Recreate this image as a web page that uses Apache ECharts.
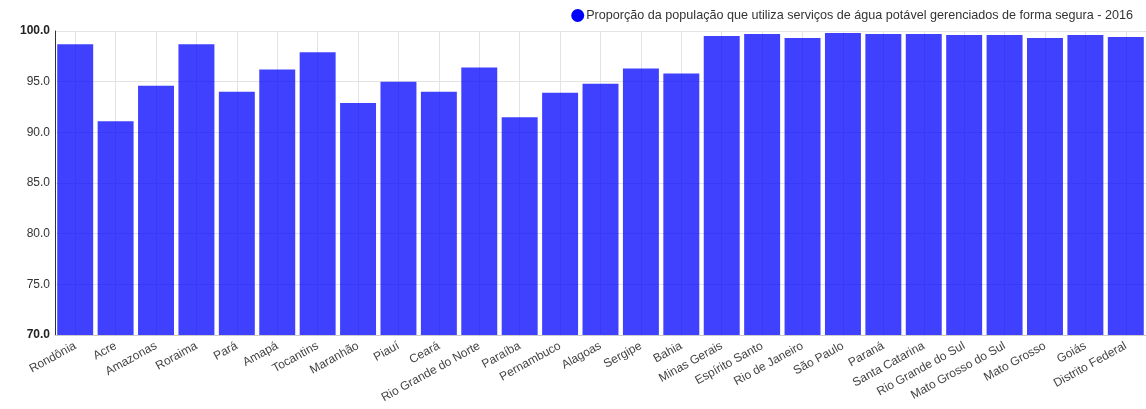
<!DOCTYPE html>
<html>
<head>
<meta charset="utf-8">
<script src="https://cdn.jsdelivr.net/npm/echarts@6/dist/echarts.min.js"></script>
<style>
html,body{margin:0;padding:0;background:#fff;}
#chart{width:1146px;height:409px;}
</style>
</head>
<body>
<div id="chart"></div>
<script>
const categories = ["Rondônia","Acre","Amazonas","Roraima","Pará","Amapá","Tocantins","Maranhão","Piauí","Ceará","Rio Grande do Norte","Paraíba","Pernambuco","Alagoas","Sergipe","Bahia","Minas Gerais","Espírito Santo","Rio de Janeiro","São Paulo","Paraná","Santa Catarina","Rio Grande do Sul","Mato Grosso do Sul","Mato Grosso","Goiás","Distrito Federal"];
const values = [98.7,91.1,94.6,98.7,94.0,96.2,97.9,92.9,95.0,94.0,96.4,91.5,93.9,94.8,96.3,95.8,99.5,99.7,99.3,99.8,99.7,99.7,99.6,99.6,99.3,99.6,99.4];
const seriesName = "Proporção da população que utiliza serviços de água potável gerenciados de forma segura - 2016";
const yMin = 70, yMax = 100, yStep = 5;

const halfCats = [];
categories.forEach(function(c){ halfCats.push(c + "_a"); halfCats.push(c + "_b"); });

const chart = echarts.init(document.getElementById('chart'), null, {renderer:'canvas'});
chart.setOption({
  animation: false,
  textStyle: {fontFamily: 'Liberation Sans, Arial, sans-serif'},
  legend: {
    top: 4, right: 8,
    icon: 'circle', itemWidth: 13, itemHeight: 13, itemGap: 4,
    textStyle: {fontSize: 12.6, color: '#333', padding: [0,0,0,-3]},
    data: [{name: seriesName, itemStyle: {color: '#0000ff', opacity: 1}}]
  },
  grid: {left: 55, right: -3, top: 31, bottom: 74, containLabel: false},
  xAxis: [{
    type: 'category', data: categories,
    axisLine: {show: true, lineStyle: {color: '#ccc'}},
    axisTick: {show: false},
    splitLine: {show: false},
    axisLabel: {rotate: 29, fontSize: 12, color: '#444', interval: 0, margin: 10}
  },{
    type: 'category', data: halfCats, position: 'bottom',
    axisLine: {show: false}, axisTick: {show: false}, axisLabel: {show: false},
    splitLine: {show: true, interval: function(i){ return i % 2 === 1; }, lineStyle: {color: '#e3e3e3'}}
  }],
  yAxis: {
    type: 'value', min: yMin, max: yMax, interval: yStep,
    axisLine: {show: true, lineStyle: {color: '#333'}},
    axisTick: {show: false},
    splitLine: {show: true, lineStyle: {color: '#e3e3e3'}},
    axisLabel: {
      fontSize: 12, color: '#333', margin: 5,
      formatter: function(v){
        const s = v.toFixed(1);
        return (v === yMin || v === yMax) ? '{b|' + s + '}' : s;
      },
      rich: {b: {fontWeight: 'bold', fontSize: 12, color: '#222'}}
    }
  },
  series: [{
    name: seriesName, type: 'bar', data: values, xAxisIndex: 0,
    barCategoryGap: '11%',
    itemStyle: {color: 'rgba(0,0,255,0.75)'}
  }]
});
</script>
</body>
</html>
